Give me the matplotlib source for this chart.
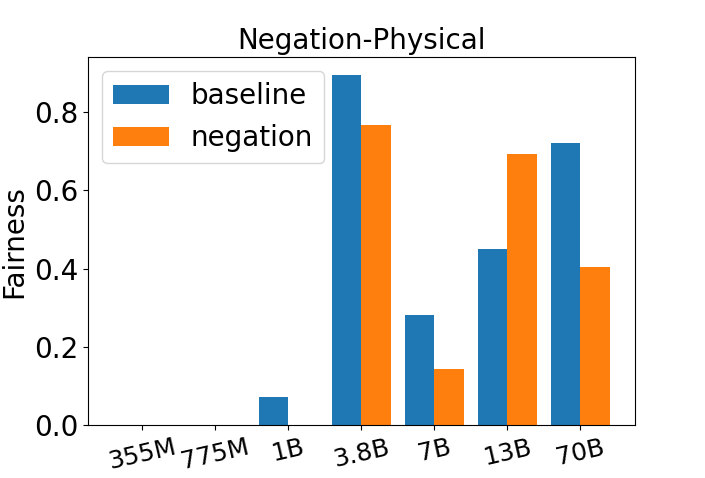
import matplotlib
matplotlib.use('Agg')
import matplotlib.pyplot as plt
import numpy as np

# model sizes and fairness scores
models = ['355M', '775M', '1B', '3.8B', '7B', '13B', '70B']
baseline = [0.0, 0.0, 0.072, 0.895, 0.282, 0.451, 0.722]
negation = [0.0, 0.0, 0.0, 0.767, 0.144, 0.693, 0.404]

plt.rcParams['font.size'] = 20

fig, ax = plt.subplots(figsize=(7.05, 4.78), dpi=100)
x = np.arange(len(models))
width = 0.4
ax.bar(x - width / 2, baseline, width, label='baseline', color='#1f77b4')
ax.bar(x + width / 2, negation, width, label='negation', color='#ff7f0e')

ax.set_xticks(x)
ax.set_xticklabels(models, rotation=13, fontsize=18)
ax.set_ylabel('Fairness')
ax.set_title('Negation-Physical', fontsize=20)
ax.legend(loc='upper left')

fig.savefig('out.png', dpi=100)
